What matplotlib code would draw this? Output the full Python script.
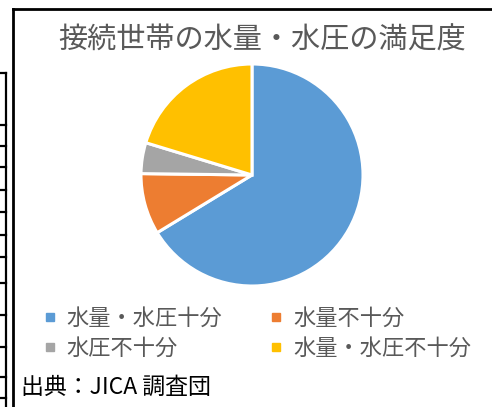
import matplotlib
matplotlib.use("Agg")
import matplotlib.pyplot as plt
from matplotlib.lines import Line2D

plt.rcParams['font.family'] = ['Noto Sans CJK JP', 'DejaVu Sans']

title = "接続世帯の水量・水圧の満足度"
labels = ["水量・水圧十分", "水量不十分", "水圧不十分", "水量・水圧不十分"]
shares = [66.3, 8.9, 4.5, 20.3]
colors = ["#5B9BD5", "#ED7D31", "#A5A5A5", "#FFC000"]
source = "出典：JICA 調査団"

# neighbouring table rows visible at the left edge (pixel y)
table_rows = [73, 125, 146, 167, 190, 212, 235, 257, 283, 315, 347, 377, 398]

W, H = 492, 407
fig = plt.figure(figsize=(W / 100, H / 100), dpi=100)


def fx(px):
    return px / W


def fy(py):
    return 1 - py / H


# pie axes: centre (252, 175), radius 111 px
cx, cy, r = 252, 175, 111
ax = fig.add_axes([fx(cx - r), fy(cy + r), 2 * r / W, 2 * r / H])
ax.pie(shares, colors=colors, startangle=90, counterclock=False, radius=1,
       wedgeprops=dict(edgecolor="white", linewidth=2.2))
ax.set_xlim(-1, 1)
ax.set_ylim(-1, 1)
ax.axis("off")

fig.text(fx(262), fy(41), title, ha="center", va="center",
         fontsize=21, color="#595959")

handles = [Line2D([], [], marker="s", linestyle="none", markersize=6,
                  markerfacecolor=c, markeredgecolor=c) for c in colors]
# order so that ncol=2 fills rows: (0,1) top, (2,3) bottom
order = [0, 2, 1, 3]
fig.legend([handles[i] for i in order], [labels[i] for i in order],
           ncol=2, loc="center left", bbox_to_anchor=(fx(44), fy(333)),
           frameon=False, fontsize=16, labelcolor="#595959",
           handlelength=0.5, handletextpad=0.5, columnspacing=2.2,
           labelspacing=0.32, borderpad=0, borderaxespad=0)

fig.text(fx(21), fy(387), source, ha="left", va="center",
         fontsize=16.5, color="black")

# chart frame (top and left borders)
fig.add_artist(Line2D([fx(13), fx(W)], [fy(9), fy(9)], color="black", linewidth=2))
fig.add_artist(Line2D([fx(13), fx(13)], [fy(9), fy(H)], color="black", linewidth=2))

# table edge on the far left
fig.add_artist(Line2D([fx(6), fx(6)], [fy(73), fy(H)], color="black", linewidth=1.6))
for y in table_rows:
    fig.add_artist(Line2D([0, fx(6)], [fy(y), fy(y)], color="black", linewidth=1.6))

fig.savefig("out.png", dpi=100, facecolor="white")
